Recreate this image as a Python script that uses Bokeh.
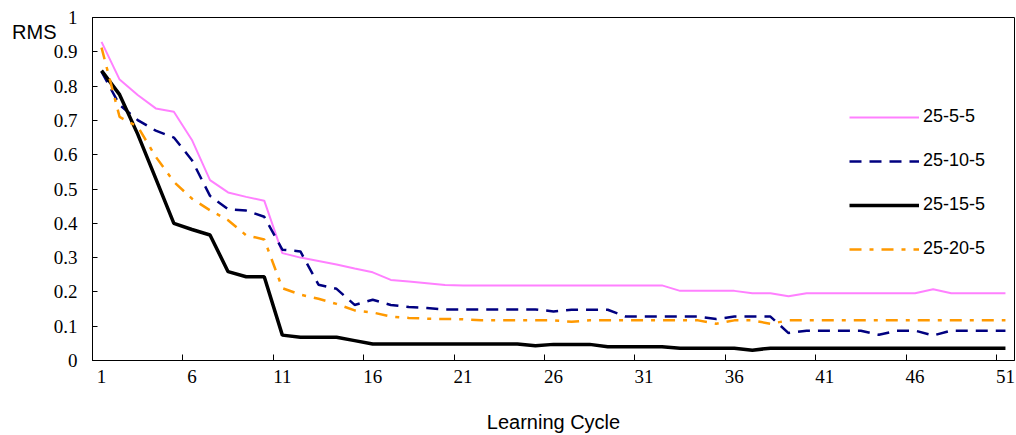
from bokeh.plotting import figure
from bokeh.models import Range1d, FixedTicker, Legend, LegendItem, LinearAxis
from bokeh.embed import file_html
from bokeh.resources import INLINE

cycles = list(range(1, 52))

rms_25_5_5 = [0.929, 0.819, 0.774, 0.735, 0.725, 0.643, 0.526, 0.490, 0.477, 0.466,
              0.313, 0.300, 0.290, 0.280, 0.268, 0.257, 0.235, 0.230, 0.225, 0.220,
              0.219, 0.219, 0.219, 0.219, 0.219, 0.219, 0.219, 0.219, 0.219, 0.219,
              0.219, 0.219, 0.203, 0.203, 0.203, 0.203, 0.196, 0.196, 0.187, 0.196,
              0.196, 0.196, 0.196, 0.196, 0.196, 0.196, 0.208, 0.196, 0.196, 0.196,
              0.196]
rms_25_10_5 = [0.842, 0.745, 0.701, 0.670, 0.650, 0.584, 0.480, 0.441, 0.437, 0.419,
               0.323, 0.318, 0.221, 0.209, 0.162, 0.177, 0.162, 0.156, 0.153, 0.149,
               0.149, 0.149, 0.149, 0.149, 0.149, 0.143, 0.148, 0.148, 0.148, 0.128,
               0.128, 0.128, 0.128, 0.128, 0.121, 0.128, 0.128, 0.128, 0.080, 0.087,
               0.087, 0.087, 0.087, 0.075, 0.087, 0.087, 0.073, 0.087, 0.087, 0.087,
               0.087]
rms_25_15_5 = [0.845, 0.775, 0.660, 0.530, 0.400, 0.382, 0.366, 0.259, 0.244, 0.244,
               0.074, 0.068, 0.068, 0.068, 0.058, 0.048, 0.048, 0.048, 0.048, 0.048,
               0.048, 0.048, 0.048, 0.048, 0.043, 0.047, 0.047, 0.047, 0.040, 0.040,
               0.040, 0.040, 0.036, 0.036, 0.036, 0.036, 0.030, 0.036, 0.036, 0.036,
               0.036, 0.036, 0.036, 0.036, 0.036, 0.036, 0.036, 0.036, 0.036, 0.036,
               0.036]
rms_25_20_5 = [0.912, 0.710, 0.682, 0.594, 0.521, 0.472, 0.438, 0.409, 0.365, 0.353,
               0.211, 0.192, 0.180, 0.165, 0.146, 0.140, 0.128, 0.124, 0.122, 0.121,
               0.120, 0.117, 0.117, 0.117, 0.117, 0.117, 0.113, 0.117, 0.117, 0.117,
               0.117, 0.117, 0.117, 0.117, 0.107, 0.117, 0.117, 0.107, 0.117, 0.117,
               0.117, 0.117, 0.117, 0.117, 0.117, 0.117, 0.117, 0.117, 0.117, 0.117,
               0.117]

series_names = ["25-5-5", "25-10-5", "25-15-5", "25-20-5"]
x_tick_labels = [1, 6, 11, 16, 21, 26, 31, 36, 41, 46, 51]
y_ticks = [0, 0.1, 0.2, 0.3, 0.4, 0.5, 0.6, 0.7, 0.8, 0.9, 1]
y_title = "RMS"
y_title_pos = 0.958

p = figure(width=1016, height=435, output_backend="svg", toolbar_location=None,
           x_range=Range1d(0.5, 51.5), y_range=Range1d(0, 1),
           min_border_left=92, min_border_right=2, min_border_top=17, min_border_bottom=74)
p.grid.visible = False
p.background_fill_color = "white"
p.outline_line_color = "#000000"
p.outline_line_width = 1

styles = [
    dict(color="#FF80FF", line_width=2, line_dash="solid"),
    dict(color="#000080", line_width=2.5, line_dash="12 8"),
    dict(color="#000000", line_width=3.5, line_dash="solid"),
    dict(color="#FF9900", line_width=2.5, line_dash="12 8 4 8"),
]
data = [rms_25_5_5, rms_25_10_5, rms_25_15_5, rms_25_20_5]
renderers = []
for ys, st in zip(data, styles):
    r = p.line(cycles, ys, line_color=st["color"], line_width=st["line_width"],
               line_dash=st["line_dash"])
    renderers.append(r)

# x axis
xa = p.xaxis[0]
minor = [t + 4.5 for t in x_tick_labels[:-1]]
xa.ticker = FixedTicker(ticks=x_tick_labels, minor_ticks=minor)
xa.major_tick_line_color = None
xa.minor_tick_in = 6
xa.minor_tick_out = 0
xa.minor_tick_line_color = "#000000"
xa.axis_line_color = "#000000"
xa.major_label_text_font = "Liberation Serif"
xa.major_label_text_font_size = "19px"
xa.major_label_text_color = "#000000"
xa.major_label_standoff = 3
xa.axis_label = "Learning Cycle"
xa.axis_label_text_font = "Liberation Sans"
xa.axis_label_text_font_size = "20px"
xa.axis_label_text_font_style = "normal"
xa.axis_label_text_color = "#000000"
xa.axis_label_standoff = 25

# y axis
ya = p.yaxis[0]
ya.ticker = FixedTicker(ticks=y_ticks, minor_ticks=[])
ya.major_label_overrides = {0: "0", 1: "1"}
ya.major_tick_in = 5
ya.major_tick_out = 0
ya.minor_tick_line_color = None
ya.axis_line_color = "#000000"
ya.major_label_text_font = "Liberation Serif"
ya.major_label_text_font_size = "19px"
ya.major_label_text_color = "#000000"
ya.major_label_standoff = 15

# outer axis carrying the "RMS" title at the top left
ta = LinearAxis(ticker=FixedTicker(ticks=[y_title_pos], minor_ticks=[]),
                major_label_overrides={y_title_pos: y_title},
                axis_line_color=None, major_tick_line_color=None, minor_tick_line_color=None,
                major_tick_in=0, major_tick_out=0,
                major_label_text_font="Liberation Sans", major_label_text_font_size="20px",
                major_label_text_color="#000000", major_label_standoff=-6)
p.add_layout(ta, "left")

legend = Legend(items=[LegendItem(label=n, renderers=[r]) for n, r in zip(series_names, renderers)],
                location=(757, 101), glyph_width=70, glyph_height=20, spacing=23,
                padding=0, margin=0, label_standoff=4,
                label_text_font="Liberation Sans", label_text_font_size="18px",
                label_text_color="#000000", label_text_baseline="top",
                border_line_color=None, background_fill_alpha=0)
p.add_layout(legend, "center")

open("out.html", "w").write(file_html(p, INLINE))
